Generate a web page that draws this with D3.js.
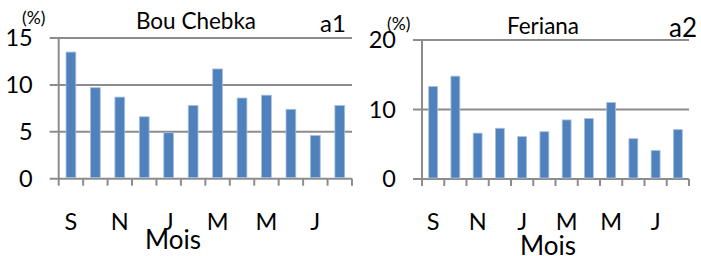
<!DOCTYPE html>
<html><head><meta charset="utf-8">
<script src="https://cdn.jsdelivr.net/npm/d3@7"></script>
<style>html,body{margin:0;padding:0;background:#fff;}svg{display:block;}</style>
</head><body>
<svg id="c" width="701" height="256"></svg>
<script>
const months = ["S","O","N","D","J","F","M","A","M","J","J","A"];
const bouChebka = [13.5, 9.7, 8.7, 6.6, 4.9, 7.8, 11.7, 8.6, 8.9, 7.4, 4.6, 7.8];
const feriana = [13.3, 14.8, 6.6, 7.3, 6.1, 6.8, 8.5, 8.7, 11.0, 5.8, 4.1, 7.1];
const yTicks1 = [0, 5, 10, 15];
const yTicks2 = [0, 10, 20];
const titles = ["Bou Chebka", "Feriana"];
const tags = ["a1", "a2"];
const xTitle = "Mois";
const yUnit = "(%)";

const FONT = "Lato, 'Open Sans', sans-serif";
const GRAY = "#8c8c8c";
const BAR = "#4f81bd";
const svg = d3.select("#c");

function panel(cfg) {
  const g = svg.append("g");
  const x = d3.scaleBand().domain(d3.range(months.length)).range([cfg.x0, cfg.x1]).paddingInner(0.6).paddingOuter(0.3);
  const xb = d3.scaleLinear().domain([0, months.length]).range([cfg.x0, cfg.x1]);
  const y = d3.scaleLinear().domain([0, cfg.ymax]).range([cfg.y0, cfg.yTop]);

  g.selectAll(".grid").data(cfg.ticks).enter().append("line")
    .attr("x1", cfg.x0 - 9).attr("x2", cfg.x1)
    .attr("y1", d => y(d)).attr("y2", d => y(d))
    .attr("stroke", GRAY).attr("stroke-width", 2);
  g.selectAll(".yl").data(cfg.ticks).enter().append("text")
    .attr("x", cfg.x0 - 26).attr("y", d => y(d)).attr("dy", "0.36em")
    .attr("text-anchor", "end").attr("font-family", FONT).attr("font-size", 23.5)
    .attr("fill", "#000").text(d => d);

  g.append("line").attr("x1", cfg.x0).attr("x2", cfg.x0)
    .attr("y1", y(cfg.ymax)).attr("y2", cfg.y0 + 7)
    .attr("stroke", GRAY).attr("stroke-width", 2);

  g.selectAll(".xt").data(d3.range(1, months.length + 1)).enter().append("line")
    .attr("x1", d => xb(d)).attr("x2", d => xb(d))
    .attr("y1", cfg.y0).attr("y2", cfg.y0 + 7)
    .attr("stroke", GRAY).attr("stroke-width", 2);

  g.selectAll(".bar").data(cfg.values).enter().append("rect")
    .attr("x", (d, i) => x(i)).attr("width", x.bandwidth())
    .attr("y", d => y(d)).attr("height", d => y(0) - y(d) - 1)
    .attr("fill", BAR).attr("stroke", "#a9c0de").attr("stroke-width", 0.8);

  g.selectAll(".xl").data(months.map((m, i) => ({m, i})).filter(d => d.i % 2 === 0)).enter().append("text")
    .attr("x", d => x(d.i) + x.bandwidth() / 2).attr("y", 230)
    .attr("text-anchor", "middle").attr("font-family", FONT).attr("font-size", 23.5)
    .text(d => d.m);

  g.append("text").attr("x", cfg.moisX).attr("y", cfg.moisY).attr("text-anchor", "middle")
    .attr("font-family", FONT).attr("font-size", 26).text(xTitle);

  g.append("text").attr("x", cfg.titleX).attr("y", cfg.titleY).attr("text-anchor", "middle")
    .attr("font-family", FONT).attr("font-size", 22.5).text(cfg.title);

  g.append("text").attr("x", cfg.tagX).attr("y", cfg.tagY)
    .attr("font-family", FONT).attr("font-size", cfg.tagSize).text(cfg.tag);

  g.append("text").attr("x", cfg.unitX).attr("y", cfg.unitY)
    .attr("font-family", FONT).attr("font-size", 17.5).text(yUnit);
}

panel({x0: 58.7, x1: 352, y0: 178.7, yTop: 38, ymax: 15, ticks: yTicks1, values: bouChebka,
  moisX: 173, moisY: 249, title: titles[0], titleX: 196, titleY: 29.3, tag: tags[0], tagX: 320, tagY: 31.5, tagSize: 24,
  unitX: 22, unitY: 24});
panel({x0: 422, x1: 689, y0: 179, yTop: 40, ymax: 20, ticks: yTicks2, values: feriana,
  moisX: 548, moisY: 255, title: titles[1], titleX: 543, titleY: 34, tag: tags[1], tagX: 669, tagY: 37, tagSize: 26,
  unitX: 387, unitY: 30});
</script>
</body></html>
